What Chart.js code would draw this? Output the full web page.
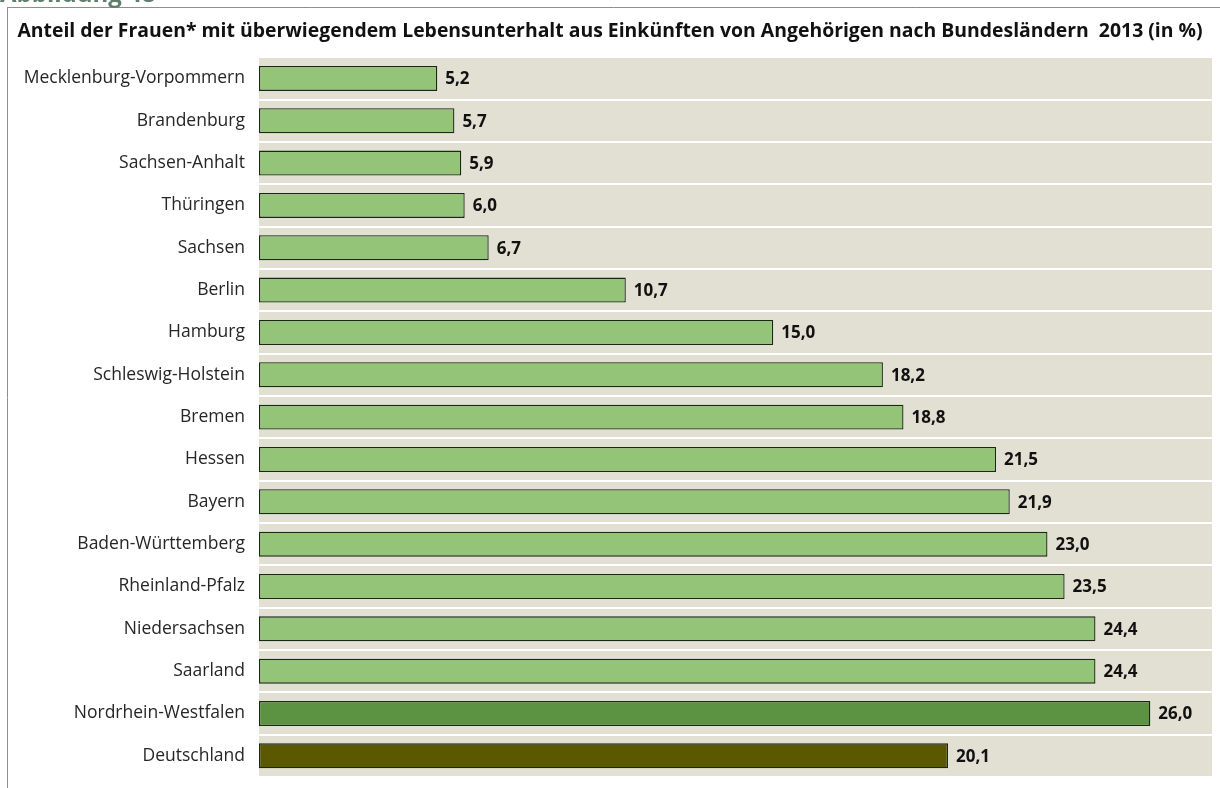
<!DOCTYPE html>
<html lang="de">
<head>
<meta charset="utf-8">
<title>Anteil der Frauen mit überwiegendem Lebensunterhalt aus Einkünften von Angehörigen 2013</title>
<script src="https://cdn.jsdelivr.net/npm/chart.js@4.4.1/dist/chart.umd.min.js"></script>
<style>
  html, body { margin: 0; padding: 0; background: #ffffff; }
  #wrap { width: 1220px; height: 788px; position: relative; }
</style>
</head>
<body>
<div id="wrap"><canvas id="chart" width="1220" height="788"></canvas></div>
<script>
// Bundesländer, sortiert nach Anteil; Deutschland als Vergleichswert am Ende
const laender = [
  'Mecklenburg-Vorpommern', 'Brandenburg', 'Sachsen-Anhalt', 'Thüringen', 'Sachsen',
  'Berlin', 'Hamburg', 'Schleswig-Holstein', 'Bremen', 'Hessen', 'Bayern',
  'Baden-Württemberg', 'Rheinland-Pfalz', 'Niedersachsen', 'Saarland',
  'Nordrhein-Westfalen', 'Deutschland'
];
// Anteil in %
const anteile = [5.2, 5.7, 5.9, 6.0, 6.7, 10.7, 15.0, 18.2, 18.8, 21.5, 21.9, 23.0, 23.5, 24.4, 24.4, 26.0, 20.1];

const titel = 'Anteil der Frauen* mit überwiegendem Lebensunterhalt aus Einkünften von Angehörigen nach Bundesländern  2013 (in %)';
const kopfzeile = 'Abbildung 48';

const FARBE_LAND = '#93c478';
const FARBE_MAX = '#5b9342';
const FARBE_DE = '#5b5800';
const balkenFarben = laender.map((name, i) => {
  if (name === 'Deutschland') return FARBE_DE;
  if (anteile[i] === Math.max(...anteile)) return FARBE_MAX;
  return FARBE_LAND;
});

const fmt = v => v.toFixed(1).replace('.', ',');

// Hintergrund der Zeichenfläche und Rahmenlinien
const hintergrund = {
  id: 'hintergrund',
  beforeDraw(chart) {
    const { ctx, chartArea: a } = chart;
    ctx.save();
    ctx.fillStyle = '#e1e0d3';
    ctx.fillRect(a.left, a.top, a.right - a.left, a.bottom - a.top);
    ctx.restore();
  },
  afterDraw(chart) {
    const { ctx } = chart;
    ctx.save();
    ctx.strokeStyle = '#8e8e8e';
    ctx.lineWidth = 1;
    ctx.beginPath();
    ctx.moveTo(7, 7.5); ctx.lineTo(1220, 7.5);
    ctx.moveTo(7.5, 7); ctx.lineTo(7.5, 788);
    ctx.stroke();
    ctx.fillStyle = '#5f7f6c';
    ctx.font = 'bold 24px "Open Sans", sans-serif';
    ctx.textBaseline = 'alphabetic';
    ctx.fillText(kopfzeile, 0, 2);
    ctx.restore();
  }
};

// Wertebeschriftung rechts neben jedem Balken
const werte = {
  id: 'werte',
  afterDatasetsDraw(chart) {
    const { ctx } = chart;
    const meta = chart.getDatasetMeta(0);
    ctx.save();
    ctx.fillStyle = '#111111';
    ctx.font = 'bold 17px "Open Sans", sans-serif';
    ctx.textAlign = 'left';
    ctx.textBaseline = 'middle';
    meta.data.forEach((bar, i) => {
      ctx.fillText(fmt(anteile[i]), bar.x + 8, bar.y + 1);
    });
    ctx.restore();
  }
};

new Chart(document.getElementById('chart'), {
  type: 'bar',
  data: {
    labels: laender,
    datasets: [{
      data: anteile,
      backgroundColor: balkenFarben,
      borderColor: '#1a2616',
      borderWidth: 1.3,
      borderSkipped: false,
      categoryPercentage: 1,
      barPercentage: 0.59
    }]
  },
  options: {
    indexAxis: 'y',
    responsive: false,
    animation: false,
    layout: { padding: { left: 8, right: 8, top: 0, bottom: 11 } },
    plugins: {
      legend: { display: false },
      tooltip: { enabled: false },
      title: {
        display: true,
        text: titel,
        color: '#111111',
        font: { family: '"Open Sans", sans-serif', size: 19.4, weight: 'bold', lineHeight: 1.25 },
        padding: { top: 19, bottom: 14 }
      }
    },
    scales: {
      x: {
        display: false,
        min: 0,
        max: 27.8
      },
      y: {
        afterFit(scale) {
          scale.width = 251;
          scale.paddingTop = 0;
          scale.paddingBottom = 0;
        },
        border: { display: false },
        grid: { color: '#ffffff', lineWidth: 2, offset: true, drawTicks: false },
        ticks: {
          color: '#262626',
          padding: 14,
          font: { family: '"Open Sans", sans-serif', size: 17.5 }
        }
      }
    }
  },
  plugins: [hintergrund, werte]
});
</script>
</body>
</html>
